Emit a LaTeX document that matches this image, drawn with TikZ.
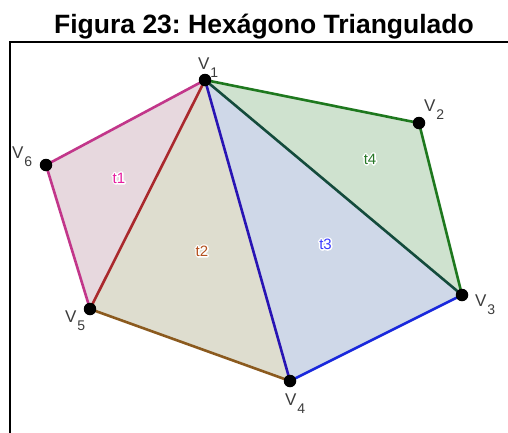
\documentclass[tikz,border=0pt]{standalone}
\usepackage{fontspec}
\setmainfont{Liberation Sans}
\definecolor{eMag}{RGB}{194,54,138}
\definecolor{eRed}{RGB}{170,40,45}
\definecolor{eBrown}{RGB}{139,90,30}
\definecolor{eIndigo}{RGB}{40,20,180}
\definecolor{eBlue}{RGB}{25,40,220}
\definecolor{eTeal}{RGB}{20,75,60}
\definecolor{eGreen}{RGB}{30,120,30}
\definecolor{fOne}{RGB}{231,216,222}
\definecolor{fTwo}{RGB}{222,221,207}
\definecolor{fThree}{RGB}{207,216,232}
\definecolor{fFour}{RGB}{207,226,207}
\definecolor{tOne}{RGB}{230,30,160}
\definecolor{tTwo}{RGB}{180,80,30}
\definecolor{tThree}{RGB}{60,60,255}
\definecolor{tFour}{RGB}{40,120,40}
\definecolor{labgray}{RGB}{60,60,60}
\newcommand{\vlabtext}[1]{{\fontsize{17}{17}\selectfont V}\kern0.8pt\raisebox{-8.5pt}{\fontsize{14}{14}\selectfont #1}}
\newcommand{\halotext}[1]{\special{pdf:literal direct 1 1 1 RG 1 1 1 rg 3 w 1 j 2 Tr}#1\special{pdf:literal direct 0 Tr 0.4 w}}
\newcommand{\tlabel}[4]{%
  \node[tlab,text=white] at (#2) {\halotext{#4}};
  \node[tlab,text=#3] (#1) at (#2) {#4};}
\frenchspacing
\begin{document}
\begin{tikzpicture}[x=1pt,y=-1pt,
  pt/.style={circle,fill=black,minimum size=12.5pt,inner sep=0pt},
  edge/.style={line width=2.6pt,line cap=round,line join=round},
  vlab/.style={anchor=base west,inner sep=0pt,text=labgray},
  tlab/.style={inner sep=0pt,font=\fontsize{15}{15}\selectfont}]
\useasboundingbox (0,0) rectangle (508,432);
\fill[white] (0,0) rectangle (508,432);
% title
\node[font=\fontsize{26.5}{26.5}\selectfont\bfseries,anchor=base] (title) at (264,33) {Figura 23: Hexágono Triangulado};
% frame
\draw[line width=2pt] (9.5,433) -- (9.5,42) -- (509,42);
% vertices
\coordinate (c1) at (205,80);
\coordinate (c2) at (419,123);
\coordinate (c3) at (462,295);
\coordinate (c4) at (290,381);
\coordinate (c5) at (90,309);
\coordinate (c6) at (46,165);
% fills
\fill[fOne] (c1) -- (c6) -- (c5) -- cycle;
\fill[fTwo] (c1) -- (c5) -- (c4) -- cycle;
\fill[fThree] (c1) -- (c4) -- (c3) -- cycle;
\fill[fFour] (c1) -- (c3) -- (c2) -- cycle;
% edges
\draw[edge,eMag] (c1) -- (c6) -- (c5);
\draw[edge,eBrown] (c5) -- (c4);
\draw[edge,eBlue] (c4) -- (c3);
\draw[edge,eGreen] (c3) -- (c2) -- (c1);
\draw[edge,eRed] (c1) -- (c5);
\draw[edge,eIndigo] (c1) -- (c4);
\draw[edge,eTeal] (c1) -- (c3);
% points
\node[pt] (v1) at (c1) {};
\node[pt] (v2) at (c2) {};
\node[pt] (v3) at (c3) {};
\node[pt] (v4) at (c4) {};
\node[pt] (v5) at (c5) {};
\node[pt] (v6) at (c6) {};
% vertex labels
\node[vlab] (l1) at (198,69) {\vlabtext{1}};
\node[vlab] (l2) at (424,111) {\vlabtext{2}};
\node[vlab] (l3) at (475,306) {\vlabtext{3}};
\node[vlab] (l4) at (285,405) {\vlabtext{4}};
\node[vlab] (l5) at (65,322) {\vlabtext{5}};
\node[vlab] (l6) at (12,158) {\vlabtext{6}};
% triangle labels
\tlabel{t1}{119,178}{tOne}{t1}
\tlabel{t2}{202,251}{tTwo}{t2}
\tlabel{t3}{325.5,244}{tThree}{t3}
\tlabel{t4}{370,159}{tFour}{t4}
\end{tikzpicture}
\end{document}
